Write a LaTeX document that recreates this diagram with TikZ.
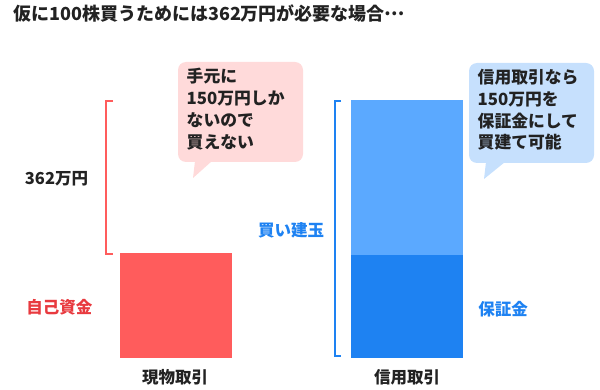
\documentclass[tikz,border=0pt]{standalone}
\usepackage{fontspec}
\newfontfamily\jp{Noto Sans CJK JP}
\definecolor{barred}{HTML}{FF5C5C}
\definecolor{txtred}{HTML}{E83A3F}
\definecolor{bluelight}{HTML}{5BA9FF}
\definecolor{bluedark}{HTML}{1E82F2}
\definecolor{pinkbub}{HTML}{FFDADA}
\definecolor{bluebub}{HTML}{C6E0FD}
\definecolor{txtdark}{HTML}{222222}
\tikzset{
  lbl/.style={font=\jp\bfseries\fontsize{16.5}{18}\selectfont, text=txtdark, inner sep=0pt},
  bubtxt/.style={font=\jp\bfseries\fontsize{16.8}{21.8}\selectfont, text=txtdark, align=left, inner sep=0pt, anchor=north west},
  bracket/.style={line width=2pt}
}
\begin{document}
\begin{tikzpicture}[x=1pt,y=-1pt]
\useasboundingbox (0,0) rectangle (600,390);
% title
\node[font=\jp\bfseries\fontsize{18}{20}\selectfont, text=txtdark, anchor=west, inner sep=0pt] (title) at (13,14) {仮に100株買うためには362万円が必要な場合\raisebox{0.3em}{…}};
% bars
\fill[barred] (120,253) rectangle (232,358);
\fill[bluelight] (351,100) rectangle (463,255);
\fill[bluedark] (351,255) rectangle (463,358);
% brackets
\draw[bracket, barred] (113,101) -- (105.5,101) -- (105.5,254.5) -- (113,254.5);
\draw[bracket, bluedark] (341,101) -- (335,101) -- (335,355.5) -- (341,355.5);
% bubbles
\fill[pinkbub, rounded corners=8pt] (178,62) rectangle (303,162);
\fill[pinkbub] (195,161) -- (212,161) -- (193,178) -- cycle;
\fill[bluebub, rounded corners=8pt] (469,63) rectangle (594,163);
\fill[bluebub] (486,162) -- (505,162) -- (484,179) -- cycle;
\node[bubtxt] (b1) at (186.5,68) {手元に\\150万円しか\\ないので\\買えない};
\node[bubtxt] (b2) at (477.5,69) {信用取引なら\\150万円を\\保証金にして\\買建て可能};
% labels
\node[lbl] (total) at (56.5,179) {362万円};
\node[lbl, text=txtred] (own) at (59.5,307) {自己資金};
\node[lbl, text=bluedark] (buy) at (291,230.5) {買い建玉};
\node[lbl, text=bluedark] (margin) at (503,309) {保証金};
\node[lbl] (spot) at (175,377) {現物取引};
\node[lbl] (credit) at (407,377) {信用取引};
\end{tikzpicture}
\end{document}
